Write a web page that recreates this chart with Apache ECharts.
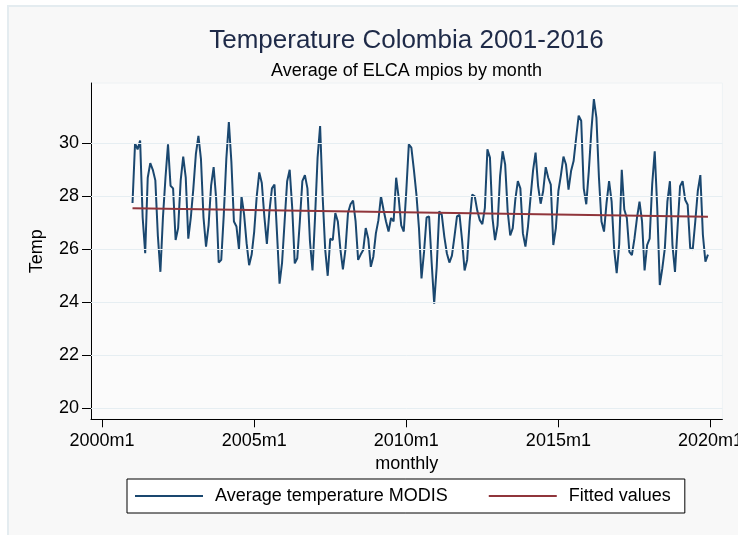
<!DOCTYPE html>
<html><head><meta charset="utf-8">
<script src="https://cdn.jsdelivr.net/npm/echarts@6/dist/echarts.min.js"></script>
<style>html,body{margin:0;padding:0;background:#fff}#c{width:738px;height:535px}</style>
</head><body><div id="c"></div>
<script>
// months counted from 2000m1 = 0; first observation is 2001m1
const firstMonth = 12;
const temps = [
  27.75, 30.0, 29.77, 30.1, 27.2, 25.85, 28.7, 29.25, 29.0, 28.6, 26.5, 25.15,
  27.2, 28.7, 29.96, 28.4, 28.3, 26.35, 26.8, 28.6, 29.5, 28.7, 26.4, 27.2,
  28.3, 29.6, 30.28, 29.4, 27.2, 26.1, 26.9, 28.4, 29.1, 27.9, 25.5, 25.6,
  27.3, 29.4, 30.8, 29.3, 27.05, 26.86, 26.0, 28.0, 27.33, 26.23, 25.4, 25.8,
  26.67, 28.0, 28.9, 28.5, 27.24, 26.2, 27.43, 28.3, 28.44, 26.6, 24.7, 25.5,
  27.05, 28.57, 29.0, 27.56, 25.47, 25.66, 27.05, 28.57, 28.8, 28.3, 26.3, 25.2,
  27.2, 29.45, 30.65, 28.0, 26.0, 25.0, 26.4, 26.35, 27.37, 27.05, 26.0, 25.24,
  26.0, 27.37, 27.7, 27.84, 27.05, 25.6, 25.8, 25.97, 26.8, 26.4, 25.34, 25.72,
  26.6, 27.1, 28.0, 27.5, 27.05, 26.67, 27.18, 27.05, 28.7, 27.94, 26.9, 26.67,
  28.2, 29.96, 29.84, 29.0, 28.06, 26.8, 24.9, 25.9, 27.2, 27.24, 25.5, 23.95,
  25.34, 27.43, 27.3, 26.48, 25.85, 25.5, 25.76, 26.48, 27.24, 27.3, 26.35, 25.2,
  25.6, 27.05, 28.06, 28.0, 27.46, 27.1, 26.95, 27.56, 29.77, 29.46, 27.18, 26.35,
  26.9, 28.76, 29.7, 29.2, 27.43, 26.52, 26.8, 27.87, 28.57, 28.3, 26.6, 26.1,
  26.86, 27.94, 28.97, 29.65, 28.38, 27.72, 28.2, 29.1, 28.7, 28.44, 26.16, 26.8,
  28.2, 28.8, 29.5, 29.2, 28.25, 28.95, 29.33, 30.2, 31.04, 30.85, 28.3, 27.7,
  28.95, 30.47, 31.67, 30.97, 28.7, 27.05, 26.67, 27.75, 28.57, 27.8, 26.0, 25.1,
  26.2, 29.0, 27.5, 27.18, 25.9, 25.78, 26.4, 27.18, 27.8, 27.05, 25.2, 26.16,
  26.4, 28.44, 29.7, 27.56, 24.65, 25.28, 26.04, 27.8, 28.57, 26.16, 25.15, 26.8,
  28.38, 28.57, 27.87, 27.68, 26.04, 26.0, 27.05, 28.2, 28.8, 26.55, 25.53, 25.8
];
const fittedEnds = [27.55, 27.23];
const xTickMonths = [0, 60, 120, 180, 240];
const yTicks = [20, 22, 24, 26, 28, 30];
const seriesNames = ['Average temperature MODIS', 'Fitted values'];
const titleText = 'Temperature Colombia 2001-2016';
const subtitleText = 'Average of ELCA mpios by month';
const xAxisTitle = 'monthly';
const yAxisTitle = 'Temp';

const FONT = "'Liberation Sans', Arial, sans-serif";
const tempData = temps.map((v, i) => [firstMonth + i, v]);
const fitData = [[firstMonth, fittedEnds[0]], [firstMonth + temps.length - 1, fittedEnds[1]]];
function monthLabel(m) { return (2000 + Math.floor(m / 12)) + 'm' + (m % 12 + 1); }

const chart = echarts.init(document.getElementById('c'), null, {renderer: 'canvas'});
chart.setOption({
  animation: false,
  backgroundColor: '#ffffff',
  graphic: {
    elements: [{
      type: 'rect', z: -100, silent: true,
      shape: {x: 8, y: 6, width: 740, height: 540},
      style: {fill: '#f8f8f8', stroke: '#e4ecf0', lineWidth: 2}
    }]
  },
  title: [
    {text: titleText, left: 406.5, top: 28, textAlign: 'center', padding: 0,
     textStyle: {fontSize: 26, fontWeight: 'normal', color: '#1e2a48', fontFamily: FONT}},
    {text: subtitleText, left: 406.5, top: 62, textAlign: 'center', padding: 0,
     textStyle: {fontSize: 18, fontWeight: 'normal', color: '#000', fontFamily: FONT}}
  ],
  legend: {
    data: seriesNames.map(n => ({name: n, icon: 'rect'})),
    left: 127, top: 479, orient: 'horizontal',
    padding: [8, 14, 8, 8], itemGap: 41, itemWidth: 68, itemHeight: 2,
    borderColor: '#000', borderWidth: 1, backgroundColor: '#fff',
    textStyle: {fontSize: 18, color: '#000', fontFamily: FONT, padding: [0, 0, 0, 7], lineHeight: 18}
  },
  grid: {left: 91, top: 83, width: 631.4, height: 336.3, show: true,
         outerBoundsMode: 'none', containLabel: false,
         backgroundColor: '#fbfbfb', borderColor: '#eef2f4', borderWidth: 1},
  xAxis: {
    type: 'value', min: -4.38, max: 244.7,
    axisLine: {show: true, onZero: false, lineStyle: {color: '#000', width: 1}},
    axisTick: {show: true, customValues: xTickMonths, length: 8, lineStyle: {color: '#000'}},
    axisLabel: {customValues: xTickMonths, formatter: monthLabel, margin: 13,
                fontSize: 18, color: '#000', fontFamily: FONT},
    splitLine: {show: false},
    name: xAxisTitle, nameLocation: 'middle', nameGap: 31,
    nameTextStyle: {fontSize: 18, color: '#000', fontFamily: FONT}
  },
  yAxis: {
    type: 'value', min: 19.585, max: 32.275,
    axisLine: {show: true, onZero: false, lineStyle: {color: '#000', width: 1}},
    axisTick: {show: true, customValues: yTicks, length: 9, lineStyle: {color: '#000'}},
    axisLabel: {customValues: yTicks, margin: 12, fontSize: 18, color: '#000', fontFamily: FONT},
    splitLine: {show: false},
    name: yAxisTitle, nameLocation: 'middle', nameGap: 45, nameRotate: 90,
    nameTextStyle: {fontSize: 18, color: '#000', fontFamily: FONT}
  },
  series: [
    {name: 'grid', type: 'line', data: [], z: 1, silent: true,
     markLine: {silent: true, symbol: ['none', 'none'], label: {show: false},
       lineStyle: {color: '#e6eef2', width: 1, type: 'solid'},
       data: yTicks.map(v => ({yAxis: v}))}},
    {name: seriesNames[0], type: 'line', data: tempData, showSymbol: false, symbol: 'none', z: 3,
     lineStyle: {color: '#1a476f', width: 2}, itemStyle: {color: '#1a476f'}},
    {name: seriesNames[1], type: 'line', data: fitData, showSymbol: false, symbol: 'none', z: 4,
     lineStyle: {color: '#90353b', width: 2}, itemStyle: {color: '#90353b'}}
  ]
});
</script></body></html>
